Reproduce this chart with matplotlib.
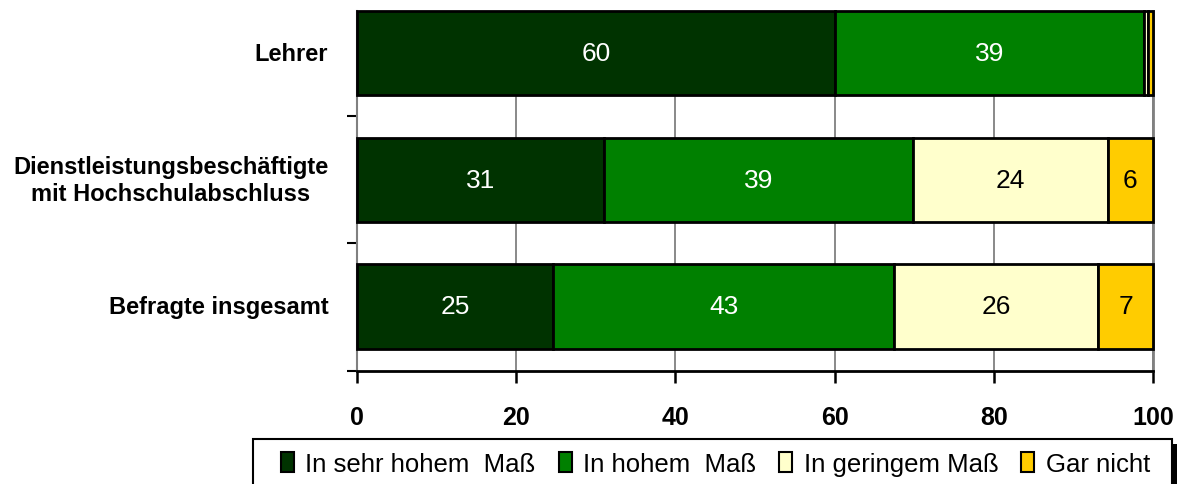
import matplotlib
matplotlib.use("Agg")
import matplotlib.pyplot as plt
from matplotlib.patches import Rectangle

categories = ["Befragte insgesamt", "Dienstleistungsbeschäftigte\nmit Hochschulabschluss", "Lehrer"]
series_names = ["In sehr hohem  Maß", "In hohem  Maß", "In geringem Maß", "Gar nicht"]
values = {
    "In sehr hohem  Maß": [24.6, 31.0, 60.0],
    "In hohem  Maß": [42.9, 38.9, 38.9],
    "In geringem Maß": [25.6, 24.4, 0.5],
    "Gar nicht": [6.9, 5.7, 0.6],
}
labels = {
    "In sehr hohem  Maß": ["25", "31", "60"],
    "In hohem  Maß": ["43", "39", "39"],
    "In geringem Maß": ["26", "24", ""],
    "Gar nicht": ["7", "6", ""],
}
colors = ["#003300", "#008000", "#FFFFCC", "#FFCC00"]
label_colors = ["white", "white", "black", "black"]
xticks = [0, 20, 40, 60, 80, 100]

plt.rcParams["font.family"] = ["Liberation Sans", "DejaVu Sans"]

W, H = 1182, 485
fig = plt.figure(figsize=(W / 100, H / 100), dpi=100)
ax = fig.add_axes([357 / W, 1 - 372 / H, (1153 - 357) / W, (372 - 12) / H])

y = list(range(len(categories)))
left = [0.0] * len(categories)
for i, name in enumerate(series_names):
    vals = values[name]
    ax.barh(y, vals, left=left, height=0.665, color=colors[i], edgecolor="black",
            linewidth=2.0, zorder=3, clip_on=False)
    for j, (v, l) in enumerate(zip(vals, left)):
        txt = labels[name][j]
        if txt:
            ax.text(l + v / 2, y[j], txt, ha="center", va="center",
                    color=label_colors[i], fontsize=19, zorder=4)
    left = [a + b for a, b in zip(left, vals)]

ax.set_xlim(0, 100)
ax.set_ylim(-0.51, 2.3325)
ax.set_xticks(xticks)
ax.set_xticklabels([str(t) for t in xticks], fontsize=18, fontweight="bold")
ax.set_yticks([-0.51, 0.5, 1.5])
ax.set_yticklabels([])
ax.tick_params(axis="y", direction="out", length=7.5, width=1.5, color="black")
ax.tick_params(axis="x", direction="out", length=8.5, width=1.8, color="black", pad=16)
for j, c in enumerate(categories):
    ax.text(-3.6, y[j], c, ha="right", va="center", multialignment="center",
            fontsize=17, fontweight="bold", transform=ax.transData)

ax.grid(axis="x", color="#808080", linewidth=1.3, zorder=0)
ax.spines["top"].set_visible(False)
ax.spines["left"].set_color("#808080")
ax.spines["left"].set_linewidth(1.5)
ax.spines["right"].set_color("#808080")
ax.spines["right"].set_linewidth(2.0)
ax.spines["bottom"].set_color("black")
ax.spines["bottom"].set_linewidth(2.0)

# legend box with shadow
fig.patches.append(Rectangle((258 / W, -0.05), (1172 - 253) / W, (1 - 445 / H) + 0.05,
                             transform=fig.transFigure, facecolor="black",
                             edgecolor="none", zorder=1))
fig.patches.append(Rectangle((253 / W, -0.05), (1172 - 253) / W, (1 - 440 / H) + 0.05,
                             transform=fig.transFigure, facecolor="white",
                             edgecolor="black", linewidth=1.5, zorder=2))

handles = [Rectangle((0, 0), 1, 1, facecolor=c, edgecolor="black", linewidth=1.5) for c in colors]
leg = fig.legend(handles, series_names, loc="center left",
                 bbox_to_anchor=(281 / W, 1 - 465 / H),
                 ncol=4, fontsize=18.5, frameon=False, borderaxespad=0, borderpad=0,
                 handlelength=0.5, handleheight=0.85, handletextpad=0.45,
                 columnspacing=0.9)
leg.set_zorder(5)

fig.savefig("out.png", dpi=100)
